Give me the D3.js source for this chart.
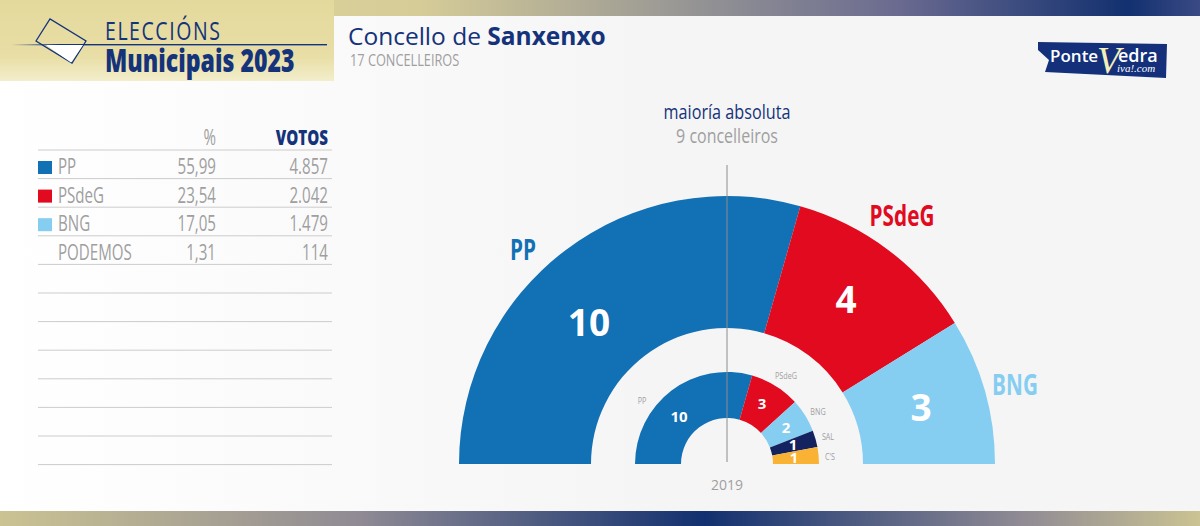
<!DOCTYPE html>
<html>
<head>
<meta charset="utf-8">
<script src="https://cdn.jsdelivr.net/npm/d3@7"></script>
<style>
html,body{margin:0;padding:0;background:#fff;overflow:hidden}
text{font-family:"Open Sans",sans-serif}
</style>
</head>
<body>
<div id="chart"></div>
<script>
// table
var tableParties = ["PP", "PSdeG", "BNG", "PODEMOS"];
var tablePct = ["55,99", "23,54", "17,05", "1,31"];
var tableVotes = ["4.857", "2.042", "1.479", "114"];
var tableSwatches = ["#1270b5", "#e10a1e", "#85cdf1", null];

// seats 2023
var parties2023 = ["PP", "PSdeG", "BNG"];
var seats2023 = [10, 4, 3];
var colors2023 = ["#1270b5", "#e10a1e", "#85cdf1"];

// seats 2019
var parties2019 = ["PP", "PSdeG", "BNG", "SAL", "C'S"];
var seats2019 = [10, 3, 2, 1, 1];
var colors2019 = ["#1270b5", "#e10a1e", "#85cdf1", "#14235f", "#f9b233"];

var navy = "#14337a", grey = "#9f9f9f";
var svg = d3.select("#chart").append("svg").attr("width", 1200).attr("height", 526);
var defs = svg.append("defs");

function gradient(id, stops, x2, y2) {
	var g = defs.append("linearGradient").attr("id", id)
		.attr("x1", 0).attr("y1", 0).attr("x2", x2).attr("y2", y2);
	g.selectAll("stop").data(stops).enter().append("stop")
		.attr("offset", function(d) { return d[0]; })
		.attr("stop-color", function(d) { return d[1]; });
}
gradient("strip", [[0, "#e4d99c"], [0.35, "#d6cc98"], [0.6, "#8f8f94"], [0.75, "#6a6a90"], [0.94, "#12306f"], [1, "#3a4a85"]], 1, 0);
gradient("stripBottom", [[0, "#cbc392"], [0.3, "#8f8a94"], [0.587, "#12306f"], [0.85, "#8f8a94"], [1, "#cbc392"]], 1, 0);
gradient("head", [[0, "#e4d99c"], [0.7, "#e8dea6"], [1, "#f3eecb"]], 0, 1);
gradient("page", [[0, "#ffffff"], [0.55, "#f5f5f6"], [1, "#f5f5f6"]], 1, 0);
gradient("rule", [[0, "#e4d99c"], [0.15, "#14337a"], [1, "#14337a"]], 1, 0);

svg.append("rect").attr("width", 1200).attr("height", 526).attr("fill", "url(#page)");
svg.append("rect").attr("width", 1200).attr("height", 16).attr("fill", "url(#strip)");
svg.append("rect").attr("y", 511).attr("width", 1200).attr("height", 15).attr("fill", "url(#stripBottom)");

// condensed text: Open Sans squeezed horizontally, anchored at x
function label(parent, x, y, size, squeeze, fill, anchor, weight, str) {
	return parent.append("text")
		.attr("transform", "translate(" + x + "," + y + ") scale(" + squeeze + ",1)")
		.attr("text-anchor", anchor).attr("font-size", size).attr("font-weight", weight)
		.attr("fill", fill).text(str);
}

// header block
svg.append("rect").attr("width", 334).attr("height", 81).attr("fill", "url(#head)");
svg.append("rect").attr("x", 12).attr("y", 44).attr("width", 315).attr("height", 1.4).attr("fill", "url(#rule)");
svg.append("path").attr("d", "M36 41L50 19L86 41L72 63Z").attr("fill", "none").attr("stroke", navy).attr("stroke-width", 1.3);
svg.append("path").attr("d", "M46 45L83 45L71 62.5Z").attr("fill", "#ffffff");
label(svg, 105, 40, 25, 0.78, navy, "start", 400, "ELECCIÓNS").attr("letter-spacing", 2);
label(svg, 105, 72, 31, 0.745, navy, "start", 800, "Municipais 2023");

// title
var title = svg.append("text").attr("x", 348).attr("y", 45).attr("font-size", 24.5).attr("fill", navy);
title.append("tspan").text("Concello de ");
title.append("tspan").attr("font-weight", 700).text("Sanxenxo");
label(svg, 350, 66, 17, 0.75, grey, "start", 400, "17 CONCELLEIROS");

// logo
svg.append("path").attr("d", "M1038 42L1167 44L1166 78L1045 72L1049 60L1038 50Z").attr("fill", "#14307a");
svg.append("text").attr("x", 1050).attr("y", 62).attr("font-size", 17).attr("font-weight", 600).attr("fill", "#fff").text("Ponte");
svg.append("text").attr("x", 1097).attr("y", 73).attr("font-size", 38).attr("fill", "#f4efb8").style("font-family", "'Liberation Serif'").style("font-style", "italic").text("V");
svg.append("text").attr("x", 1118).attr("y", 62).attr("font-size", 18).attr("font-weight", 600).attr("fill", "#fff").text("edra");
svg.append("text").attr("x", 1117).attr("y", 72).attr("font-size", 11).attr("fill", "#fff").style("font-family", "'Liberation Serif'").style("font-style", "italic").text("iva!.com");

// table
var rowY = d3.scaleLinear().domain([0, 1]).range([150, 178.6]);
var ruleRows = d3.range(12);
svg.selectAll(".rule").data(ruleRows).enter().append("line").attr("class", "rule")
	.attr("x1", 38).attr("x2", 332)
	.attr("y1", function(d) { return rowY(d); })
	.attr("y2", function(d) { return rowY(d); })
	.attr("stroke", "#cccccc").attr("stroke-width", 1);
label(svg, 216, 145, 21, 0.72, grey, "end", 400, "%");
label(svg, 328, 145, 21, 0.72, navy, "end", 800, "VOTOS");
var rows = svg.selectAll(".row").data(tableParties).enter().append("g").attr("class", "row");
rows.append("rect").attr("x", 38).attr("width", 14).attr("height", 13)
	.attr("y", function(d, i) { return rowY(i) + 11; })
	.attr("fill", function(d, i) { return tableSwatches[i] || "none"; });
rows.each(function(d, i) {
	var row = d3.select(this), y = rowY(i) + 24;
	label(row, 58, y, 21, 0.72, grey, "start", 400, d);
	label(row, 216, y, 21, 0.72, grey, "end", 400, tablePct[i]);
	label(row, 328, y, 21, 0.72, grey, "end", 400, tableVotes[i]);
});

// hemicycles
var cx = 727, cy = 464;
var pie = d3.pie().sort(null).startAngle(-Math.PI / 2).endAngle(Math.PI / 2);
var chart = svg.append("g").attr("transform", "translate(" + cx + "," + cy + ")");

var arc23 = d3.arc().innerRadius(136).outerRadius(268);
var arcs23 = pie(seats2023);
chart.selectAll(".big").data(arcs23).enter().append("path").attr("class", "big")
	.attr("d", arc23).attr("fill", function(d, i) { return colors2023[i]; });
var numPos23 = [[-138, -141], [119, -164], [194, -56]];
chart.selectAll(".bigNum").data(arcs23).enter().append("text").attr("class", "bigNum")
	.attr("x", function(d, i) { return numPos23[i][0]; })
	.attr("y", function(d, i) { return numPos23[i][1]; })
	.attr("text-anchor", "middle").attr("dy", "0.36em")
	.attr("font-weight", 700).attr("font-size", 37).attr("fill", "#fff")
	.text(function(d) { return d.data; });
var namePos23 = [[-204, -214], [175, -248], [288, -79]];
parties2023.forEach(function(d, i) {
	label(chart, namePos23[i][0], namePos23[i][1] + 10, 28, 0.74, colors2023[i], "middle", 700, d);
});

var arc19 = d3.arc().innerRadius(46).outerRadius(92);
var arcs19 = pie(seats2019);
chart.selectAll(".small").data(arcs19).enter().append("path").attr("class", "small")
	.attr("d", arc19).attr("fill", function(d, i) { return colors2019[i]; });
var numPos19 = [[-48, -47], [35, -60], [59, -36], [66, -19], [67, -6]];
chart.selectAll(".smallNum").data(arcs19).enter().append("text").attr("class", "smallNum")
	.attr("x", function(d, i) { return numPos19[i][0]; })
	.attr("y", function(d, i) { return numPos19[i][1]; })
	.attr("text-anchor", "middle").attr("dy", "0.36em")
	.attr("font-weight", 700).attr("font-size", 15).attr("fill", "#fff")
	.text(function(d) { return d.data; });
var namePos19 = [[-85, -63], [59, -88], [91, -52], [101, -27], [103, -7]];
parties2019.forEach(function(d, i) {
	label(chart, namePos19[i][0], namePos19[i][1] + 3, 9, 0.8, grey, "middle", 400, d);
});

// majority line
svg.append("line").attr("x1", cx).attr("x2", cx).attr("y1", 165).attr("y2", 462).attr("stroke", "#8c8c8c").attr("stroke-width", 1);
label(svg, cx, 119, 20.5, 0.79, navy, "middle", 400, "maioría absoluta");
label(svg, cx, 143, 20.5, 0.78, grey, "middle", 400, "9 concelleiros");
svg.append("text").attr("x", cx).attr("y", 490).attr("text-anchor", "middle").attr("font-size", 14).attr("fill", grey).text("2019");
</script>
</body>
</html>
